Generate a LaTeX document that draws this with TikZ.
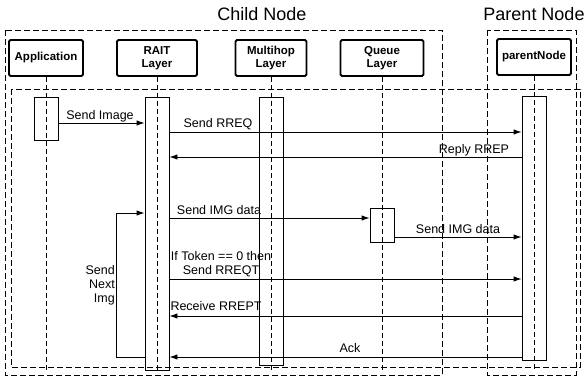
\documentclass[tikz,border=0pt]{standalone}
\usepackage{fontspec}
\setmainfont{Liberation Sans}
\usetikzlibrary{arrows.meta}

\begin{document}
\begin{tikzpicture}[x=1pt,y=-1pt,
  part/.style={draw, line width=1.8pt, rounded corners=1.5pt, minimum height=36pt, inner sep=1pt, align=center, font=\bfseries\fontsize{11.5}{13.5}\selectfont},
  bar/.style={draw, line width=0.9pt, minimum width=24pt, anchor=north, inner sep=0pt},
  life/.style={line width=0.9pt, dash pattern=on 5pt off 3pt},
  frame/.style={line width=0.9pt, dash pattern=on 6pt off 3pt},
  msg/.style={line width=0.9pt, -{Latex[length=8pt,width=5.5pt]}},
  lbl/.style={inner sep=0pt, font=\fontsize{12.5}{14}\selectfont}]
\useasboundingbox (0,0) rectangle (585,378);

% node groups
\draw[frame] (5,30) rectangle (442,375);
\draw[frame] (487,30) rectangle (576,375);
\draw[frame] (11,89) rectangle (580,367);
\node[font=\fontsize{18}{20}\selectfont] (child) at (262,14) {Child Node};
\node[font=\fontsize{18}{20}\selectfont] (parent) at (534,14) {Parent Node};

% participants
\node[part, minimum width=74pt] (app) at (46,58) {Application};
\node[part, minimum width=80pt] (rait) at (157,58) {RAIT\\Layer};
\node[part, minimum width=71pt] (mhop) at (271,58) {Multihop\\Layer};
\node[part, minimum width=83pt] (queue) at (382,58) {Queue\\Layer};
\node[part, minimum width=74pt] (pnode) at (534,57) {parentNode};

\coordinate (bot) at (0,371);
\foreach \p in {app,rait,mhop,queue,pnode}
  \draw[life] (\p) -- (\p |- bot);

% activations
\node[bar, minimum height=43pt] (appBar) at (46,97) {};
\node[bar, minimum height=273pt] (raitBar) at (157,97) {};
\node[bar, minimum height=268pt] (mhopBar) at (271,97) {};
\node[bar, minimum height=34pt] (queueBar) at (382,208) {};
\node[bar, minimum height=264pt] (pnodeBar) at (534,96) {};

% message levels
\coordinate (mImg) at (0,123);
\coordinate (mReq) at (0,132);
\coordinate (mRep) at (0,157);
\coordinate (mData) at (0,218);
\coordinate (mData2) at (0,237);
\coordinate (mReqt) at (0,279);
\coordinate (mRept) at (0,316);
\coordinate (mAck) at (0,357);
\coordinate (loopL) at (116,213);

\draw[msg] (appBar.east |- mImg) -- (raitBar.west |- mImg);
\draw[msg] (raitBar.east |- mReq) -- (pnodeBar.west |- mReq);
\draw[msg] (pnodeBar.west |- mRep) -- (raitBar.east |- mRep);
\draw[msg] (raitBar.east |- mData) -- (queueBar.west |- mData);
\draw[msg] (queueBar.east |- mData2) -- (pnodeBar.west |- mData2);
\draw[msg] (raitBar.east |- mReqt) -- (pnodeBar.west |- mReqt);
\draw[msg] (pnodeBar.west |- mRept) -- (raitBar.east |- mRept);
\draw[msg] (pnodeBar.west |- mAck) -- (raitBar.east |- mAck);
\draw[msg] (raitBar.west |- mAck) -| (loopL) -- (raitBar.west |- loopL);

% labels
\node[lbl] (l1) at (100,116) {Send Image};
\node[lbl] (l2) at (218,124) {Send RREQ};
\node[lbl] (l3) at (474,150) {Reply RREP};
\node[lbl] (l4) at (219,210) {Send IMG data};
\node[lbl] (l5) at (458,229) {Send IMG data};
\node[lbl, align=center] (l6) at (221,264) {If Token == 0 then\\Send RREQT};
\node[lbl] (l7) at (216,306) {Receive RREPT};
\node[lbl] (l8) at (350,348) {Ack};
\node[lbl, align=right, anchor=east] (l9) at (115,285) {Send\\Next\\Img};
\end{tikzpicture}
\end{document}
